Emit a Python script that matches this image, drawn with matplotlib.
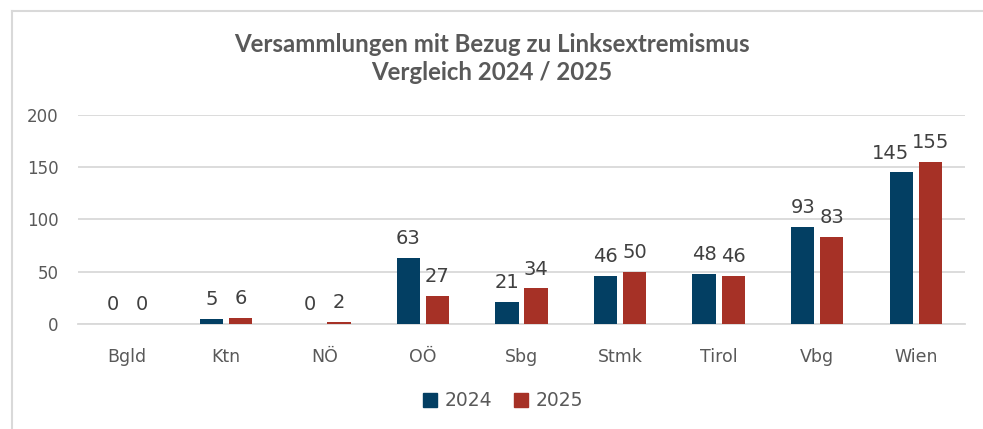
import matplotlib
matplotlib.use("Agg")
import matplotlib.pyplot as plt
import numpy as np
from matplotlib.lines import Line2D

categories = ["Bgld", "Ktn", "NÖ", "OÖ", "Sbg", "Stmk", "Tirol", "Vbg", "Wien"]
values_2024 = [0, 5, 0, 63, 21, 46, 48, 93, 145]
values_2025 = [0, 6, 2, 27, 34, 50, 46, 83, 155]
series_names = ["2024", "2025"]
y_ticks = [0, 50, 100, 150, 200]
title = "Versammlungen mit Bezug zu Linksextremismus\nVergleich 2024 / 2025"

# horizontal nudge (points) of the 2024 value labels, as placed in the reference
label_dx_2024 = [0, 0, 0, 0, 0, 0, 0, 0, -8]

W, H = 983, 429
fig = plt.figure(figsize=(W / 100, H / 100), dpi=100)
ax = fig.add_axes([78 / W, 1 - 324 / H, (965 - 78) / W, (324 - 115) / H])

c24 = "#033F63"
c25 = "#A63126"
grid_c = "#D9D9D9"
txt_c = "#595959"
lab_c = "#404040"

x = np.arange(len(categories))
bw = 0.235
gap = 0.06
off = (bw + gap) / 2
ax.bar(x - off, values_2024, bw, color=c24, label=series_names[0], zorder=3)
ax.bar(x + off, values_2025, bw, color=c25, label=series_names[1], zorder=3)

for xi, v, dx in zip(x - off, values_2024, label_dx_2024):
    ax.annotate(str(v), (xi, v), xytext=(dx, 10), textcoords="offset points",
                ha="center", va="baseline", fontsize=14, color=lab_c,
                family="DejaVu Sans")
for xi, v in zip(x + off, values_2025):
    ax.annotate(str(v), (xi, v), xytext=(0, 10), textcoords="offset points",
                ha="center", va="baseline", fontsize=14, color=lab_c,
                family="DejaVu Sans")

ax.set_xlim(-0.5, len(categories) - 0.5)
ax.set_ylim(0, 200)
ax.set_yticks(y_ticks)
ax.yaxis.grid(True, color=grid_c, linewidth=1.3, zorder=0)
ax.set_axisbelow(True)
for s in ["top", "right", "left"]:
    ax.spines[s].set_visible(False)
ax.spines["bottom"].set_color(grid_c)
ax.spines["bottom"].set_linewidth(1.3)
ax.tick_params(axis="y", length=0, pad=14, labelsize=12, labelcolor=txt_c)
ax.tick_params(axis="x", length=0, pad=17, labelsize=12.5, labelcolor=txt_c)
ax.set_xticks(x)
ax.set_xticklabels(categories)

fig.text(0.5, 1 - 45 / H, title.split("\n")[0], ha="center", va="center",
         fontsize=17.3, fontweight="bold", color=txt_c, family="Lato")
fig.text(0.5, 1 - 73 / H, title.split("\n")[1], ha="center", va="center",
         fontsize=17.3, fontweight="bold", color=txt_c, family="Lato")

handles = [plt.Rectangle((0, 0), 1, 1, color=c24), plt.Rectangle((0, 0), 1, 1, color=c25)]
leg = fig.legend(handles, series_names, loc="center", bbox_to_anchor=(503 / W, 1 - 401 / H),
                 ncol=2, frameon=False, fontsize=13.5, handlelength=0.75, handleheight=0.75,
                 handletextpad=0.4, columnspacing=1.2)
for t in leg.get_texts():
    t.set_color(txt_c)

# chart border (top and left edges visible)
fig.add_artist(Line2D([12 / W, 1], [1 - 11 / H, 1 - 11 / H], color=grid_c, linewidth=1.5,
                      transform=fig.transFigure))
fig.add_artist(Line2D([12 / W, 12 / W], [0, 1 - 11 / H], color=grid_c, linewidth=1.5,
                      transform=fig.transFigure))

fig.savefig("out.png", dpi=100)
